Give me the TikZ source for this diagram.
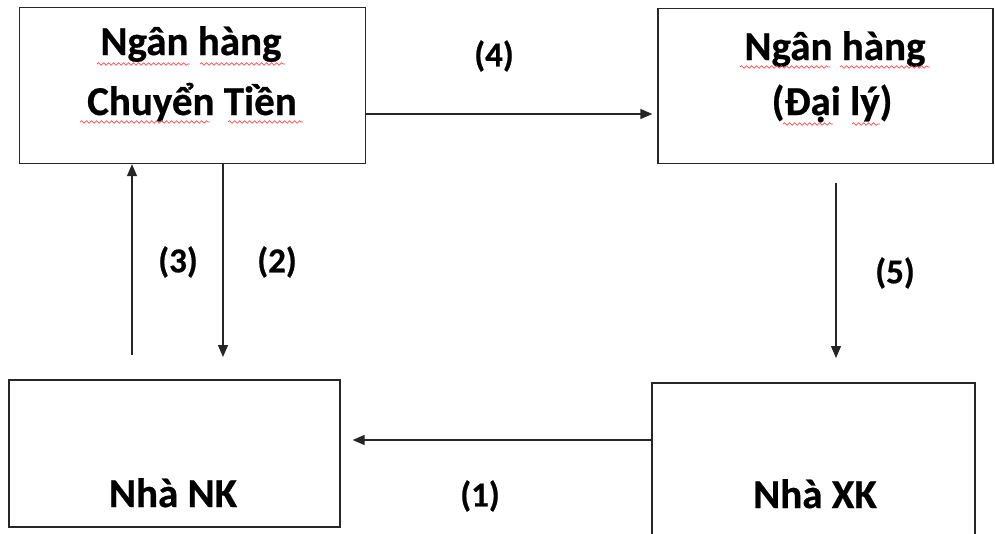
\documentclass[tikz,border=0pt]{standalone}
\usepackage{fontspec}
\setmainfont{Carlito}[BoldFeatures={FakeBold=0.6}]
\usetikzlibrary{arrows.meta,decorations.pathmorphing}

\tikzset{
  box/.style={draw=black!85, line width=1.3pt, rectangle, inner sep=0pt},
  boxtext/.style={anchor=base, inner sep=0pt, font=\fontsize{41}{41}\selectfont\bfseries},
  steplabel/.style={inner sep=0pt, font=\fontsize{35}{35}\selectfont\bfseries},
  arr/.style={draw=black!85, line width=1.3pt, -{Triangle[length=12pt,width=10pt]}},
  squig/.style={draw=red!70!white, line width=0.7pt, decorate,
    decoration={snake, amplitude=1.3pt, segment length=5pt}}
}

\begin{document}
\begin{tikzpicture}[x=1pt, y=-1pt]
  \useasboundingbox (0,0) rectangle (995,533);
  \clip (0,0) rectangle (995,533);

  % the four parties
  \node[box, minimum width=346pt, minimum height=156pt] (A) at (192.5,85.5) {};
  \node[box, minimum width=335pt, minimum height=155pt] (B) at (825.5,86) {};
  \node[box, minimum width=331pt, minimum height=147pt] (C) at (174.5,453.5) {};
  \node[box, minimum width=323pt, minimum height=162pt] (D) at (813.5,464) {};

  % box captions
  \node[boxtext] (A1) at (191,55) {Ngân hàng};
  \node[boxtext] (A2) at (192,115) {Chuyển Tiền};
  \node[boxtext] (B1) at (835,60) {Ngân hàng};
  \node[boxtext] (B2) at (832,115) {(Đại lý)};
  \node[boxtext] (C1) at (173,507) {Nhà NK};
  \node[boxtext] (D1) at (815,508) {Nhà XK};

  % spell-check underlines
  \draw[squig] (97,64) -- (190,64);
  \draw[squig] (200,64) -- (285,64);
  \draw[squig] (80,122) -- (210,122);
  \draw[squig] (228,122) -- (303,122);
  \draw[squig] (740,67) -- (830,67);
  \draw[squig] (840,67) -- (930,67);
  \draw[squig] (783,124) -- (833,124);
  \draw[squig] (852,124) -- (880,124);

  % helper coordinates for the connectors
  \coordinate (a4) at (0,114);
  \coordinate (s3) at (132,355);
  \coordinate (e2) at (223,357);
  \coordinate (e5) at (836,358);
  \coordinate (a1) at (0,440);

  % flows
  \draw[arr, shorten >=5pt] (A.east |- a4) -- (B.west |- a4);
  \draw[arr] (s3) -- (s3 |- A.south);
  \draw[arr] (e2 |- A.south) -- (e2);
  \draw[arr] ([yshift=-19pt]B.south -| e5) -- (e5);
  \draw[arr, shorten >=12pt] (D.west |- a1) -- (C.east |- a1);

  % step numbers
  \node[steplabel] (l4) at (494,56) {(4)};
  \node[steplabel] (l3) at (178,262) {(3)};
  \node[steplabel] (l2) at (277,262) {(2)};
  \node[steplabel] (l5) at (895,273) {(5)};
  \node[steplabel] (l1) at (480,496) {(1)};
\end{tikzpicture}
\end{document}
